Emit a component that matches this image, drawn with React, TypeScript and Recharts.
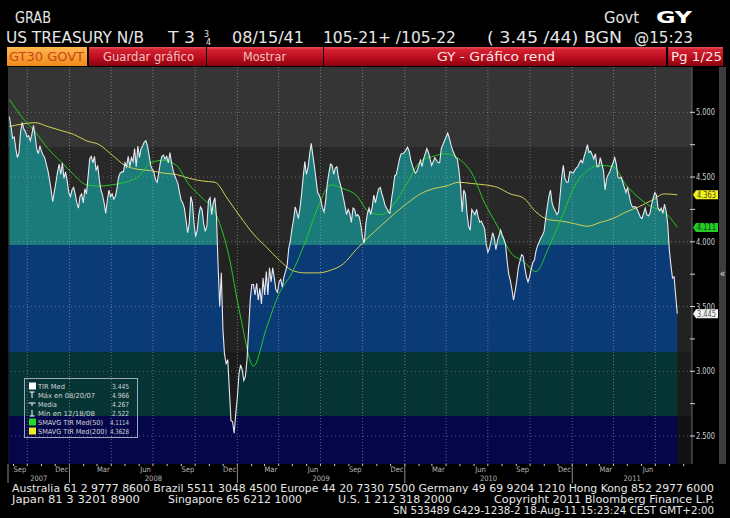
import React from "react";
import { ComposedChart, Area, Line, XAxis, YAxis, ReferenceLine, ReferenceDot } from "recharts";

const DAY = 86400000;
const d = (y: number, m: number, day: number) => Date.UTC(y, m - 1, day) / DAY;

// ---- axis ranges ----
const X_START = d(2007, 8, 20);
const X_END = d(2011, 9, 19);
const FIRST_SAMPLE = d(2007, 8, 23);
const SAMPLE_STEP_DAYS = 3.5;
const Y_MIN = 2.284;
const Y_MAX = 5.35;

// ---- TIR Med: half-weekly samples from 23-Aug-2007 to 18-Aug-2011 ----
const tir = [
  4.966, 4.89, 4.80, 4.81, 4.72, 4.65, 4.69, 4.85, 4.92, 4.87,
  4.85, 4.81, 4.82, 4.78, 4.83, 4.90, 4.82, 4.72, 4.68, 4.74,
  4.70, 4.67, 4.65, 4.60, 4.55, 4.48, 4.40, 4.31, 4.39, 4.46,
  4.54, 4.60, 4.52, 4.61, 4.49, 4.54, 4.47, 4.38, 4.35, 4.40,
  4.42, 4.37, 4.30, 4.26, 4.35, 4.37, 4.30, 4.41, 4.37, 4.50,
  4.64, 4.66, 4.61, 4.66, 4.55, 4.59, 4.48, 4.40, 4.36, 4.30,
  4.22, 4.32, 4.40, 4.35, 4.37, 4.33, 4.35, 4.41, 4.50, 4.53,
  4.54, 4.54, 4.61, 4.58, 4.66, 4.58, 4.65, 4.62, 4.72, 4.58,
  4.74, 4.65, 4.72, 4.74, 4.77, 4.78, 4.74, 4.67, 4.59, 4.56,
  4.54, 4.48, 4.46, 4.53, 4.61, 4.66, 4.67, 4.64, 4.66, 4.61,
  4.69, 4.61, 4.55, 4.51, 4.48, 4.45, 4.38, 4.32, 4.30, 4.26,
  4.17, 4.07, 4.14, 4.35, 4.30, 4.14, 4.04, 4.09, 4.21, 4.27,
  4.25, 4.14, 4.08, 4.12, 4.32, 4.34, 4.21, 4.30, 4.34, 4.19,
  3.81, 3.50, 3.76, 3.32, 3.13, 3.06, 3.09, 2.86, 2.62, 2.61,
  2.522, 2.675, 2.80, 2.98, 3.05, 3.01, 2.93, 2.96, 3.09, 3.32,
  3.55, 3.67, 3.67, 3.59, 3.68, 3.55, 3.64, 3.52, 3.72, 3.59,
  3.77, 3.59, 3.80, 3.69, 3.80, 3.72, 3.63, 3.61, 3.69, 3.71,
  3.65, 3.73, 3.77, 3.82, 3.95, 4.01, 4.10, 4.17, 4.27, 4.23,
  4.18, 4.26, 4.37, 4.50, 4.62, 4.52, 4.57, 4.68, 4.76, 4.67,
  4.58, 4.48, 4.38, 4.36, 4.32, 4.26, 4.23, 4.32, 4.45, 4.53,
  4.60, 4.59, 4.52, 4.57, 4.58, 4.49, 4.45, 4.40, 4.34, 4.28,
  4.21, 4.25, 4.22, 4.15, 4.26, 4.25, 4.20, 4.21, 4.19, 4.12,
  4.03, 3.99, 4.14, 4.22, 4.26, 4.21, 4.27, 4.36, 4.30, 4.36,
  4.41, 4.42, 4.37, 4.33, 4.28, 4.26, 4.23, 4.22, 4.33, 4.41,
  4.51, 4.52, 4.58, 4.64, 4.68, 4.68, 4.69, 4.71, 4.73, 4.70,
  4.63, 4.59, 4.55, 4.53, 4.55, 4.59, 4.63, 4.58, 4.64, 4.68,
  4.72, 4.69, 4.64, 4.59, 4.62, 4.65, 4.63, 4.61, 4.61, 4.72,
  4.75, 4.78, 4.81, 4.84, 4.80, 4.75, 4.71, 4.68, 4.65, 4.64,
  4.55, 4.43, 4.23, 4.40, 4.37, 4.22, 4.12, 4.09, 4.25, 4.23,
  4.21, 4.25, 4.19, 4.15, 4.16, 4.13, 4.10, 3.98, 3.92, 3.95,
  4.01, 4.07, 4.03, 3.94, 4.01, 4.05, 4.09, 4.05, 4.02, 3.98,
  3.85, 3.75, 3.70, 3.63, 3.55, 3.62, 3.70, 3.80, 3.85, 3.90,
  3.89, 3.80, 3.73, 3.69, 3.73, 3.79, 3.84, 3.86, 3.93, 3.97,
  4.00, 4.03, 4.05, 4.08, 4.18, 4.27, 4.35, 4.40, 4.30, 4.26,
  4.24, 4.21, 4.23, 4.36, 4.50, 4.59, 4.49, 4.46, 4.46, 4.54,
  4.54, 4.53, 4.55, 4.57, 4.58, 4.61, 4.63, 4.61, 4.66, 4.70,
  4.75, 4.69, 4.70, 4.67, 4.64, 4.68, 4.58, 4.58, 4.65, 4.60,
  4.55, 4.40, 4.49, 4.52, 4.54, 4.58, 4.61, 4.65, 4.60, 4.50,
  4.49, 4.50, 4.46, 4.42, 4.38, 4.42, 4.36, 4.30, 4.27, 4.27,
  4.27, 4.25, 4.22, 4.19, 4.18, 4.22, 4.26, 4.21, 4.20, 4.22,
  4.29, 4.34, 4.38, 4.36, 4.26, 4.24, 4.26, 4.22, 4.29, 4.24,
  4.14, 3.94, 3.82, 3.72, 3.73, 3.58, 3.445,
];

// ---- moving averages, one value every 4 weeks from 23-Aug-2007 ----
const MA_STEP_DAYS = 28;
const sma50 = [
  5.10, 4.96, 4.85, 4.72, 4.62, 4.52, 4.44, 4.43, 4.44, 4.46,
  4.50, 4.61, 4.63, 4.59, 4.44, 4.34, 4.23, 3.93, 3.42, 3.04,
  3.33, 3.60, 3.76, 3.99, 4.26, 4.44, 4.41, 4.36, 4.23, 4.21,
  4.30, 4.46, 4.62, 4.66, 4.68, 4.64, 4.53, 4.30, 4.12, 3.92,
  3.85, 3.77, 3.96, 4.19, 4.43, 4.55, 4.59, 4.58, 4.44, 4.34,
  4.27, 4.23, 4.1114,
];
const sma200 = [
  4.89, 4.91, 4.92, 4.89, 4.86, 4.83, 4.78, 4.75, 4.67, 4.59,
  4.56, 4.55, 4.53, 4.52, 4.49, 4.47, 4.46, 4.33, 4.19, 4.06,
  3.96, 3.86, 3.78, 3.76, 3.76, 3.78, 3.83, 3.94, 4.04, 4.13,
  4.22, 4.30, 4.37, 4.41, 4.43, 4.46, 4.45, 4.44, 4.42, 4.37,
  4.34, 4.23, 4.17, 4.16, 4.14, 4.12, 4.15, 4.18, 4.23, 4.27,
  4.32, 4.37, 4.3628,
];

// ---- value bands ----
const BAND_LIMITS = [4.732, 3.975, 3.151, 2.655];
const FILL_COLORS = ["#1b7a7a", "#1b7a7a", "#0a3b76", "#063434", "#05054a"];
const BG_COLORS = ["#353535", "#282828", "#222222", "#1b1b1b", "#121212"];

const Y_TICKS = [2.5, 2.75, 3.0, 3.25, 3.5, 3.75, 4.0, 4.25, 4.5, 4.75, 5.0];
const Y_GRID = [2.5, 3.0, 3.5, 4.0, 4.5, 5.0];

const MONTHS = ["Jan", "Feb", "Mar", "Apr", "May", "Jun", "Jul", "Aug", "Sep", "Oct", "Nov", "Dec"];
const LABEL_MONTHS = [2, 5, 8, 11];
const YEARS = [2007, 2008, 2009, 2010, 2011];

const tags = [
  { value: 4.363, label: "4.363", fill: "#f2f21e", text: "#4a4a10" },
  { value: 4.111, label: "4.111", fill: "#26cc26", text: "#0c3a0c" },
  { value: 3.445, label: "3.445", fill: "#f2f2f2", text: "#555555" },
];

const legendRows = [
  { icon: "sq", color: "#ffffff", label: "TIR Med", lw: 27, value: "3.445", vw: 17 },
  { icon: "max", color: "#ffffff", label: "Máx en 08/20/07", lw: 57, value: "4.966", vw: 17 },
  { icon: "mean", color: "#ffffff", label: "Media", lw: 19, value: "4.267", vw: 17 },
  { icon: "min", color: "#ffffff", label: "Mín en 12/18/08", lw: 57, value: "2.522", vw: 17 },
  { icon: "sq", color: "#22dd22", label: "SMAVG TIR Med(50)", lw: 65, value: "4.1114", vw: 19 },
  { icon: "sq", color: "#eeee22", label: "SMAVG TIR Med(200)", lw: 69, value: "4.3628", vw: 19 },
];

const FONT = "'DejaVu Sans Condensed','Liberation Sans Narrow','DejaVu Sans',sans-serif";

// ---- derived tables ----
function buildRows() {
  const map = new Map<number, any>();
  const get = (t: number) => {
    if (!map.has(t)) map.set(t, { t, bg: Y_MAX });
    return map.get(t);
  };
  get(X_START);
  get(X_END);
  tir.forEach((v, k) => (get(FIRST_SAMPLE + SAMPLE_STEP_DAYS * k).tir = v));
  sma50.forEach((v, j) => (get(FIRST_SAMPLE + MA_STEP_DAYS * j).s50 = v));
  sma200.forEach((v, j) => (get(FIRST_SAMPLE + MA_STEP_DAYS * j).s200 = v));
  return [...map.values()].sort((a, b) => a.t - b.t);
}

const LAST_SAMPLE = FIRST_SAMPLE + SAMPLE_STEP_DAYS * (tir.length - 1);

function monthStarts() {
  const out: number[] = [];
  for (let y = 2007; y <= 2011; y++)
    for (let m = 0; m < 12; m++) {
      const s = Date.UTC(y, m, 1) / DAY;
      if (s > X_START && s < X_END) out.push(s);
    }
  return out;
}

function monthLabelTicks() {
  const out: number[] = [];
  for (let y = 2007; y <= 2011; y++)
    for (const m of LABEL_MONTHS) {
      const mid = Date.UTC(y, m, 15) / DAY;
      if (mid >= X_START && mid <= LAST_SAMPLE) out.push(mid);
    }
  return out.sort((a, b) => a - b);
}

function quarterStarts() {
  return monthStarts().filter((s) => new Date(s * DAY).getUTCMonth() % 3 === 0);
}

const YEAR_SEPS = YEARS.map((y) => Date.UTC(y, 0, 1) / DAY).filter((s) => s > X_START);
const YEAR_MIDS = YEARS.map((y) => {
  const a = Math.max(X_START, Date.UTC(y, 0, 1) / DAY);
  const b = Math.min(X_END, Date.UTC(y + 1, 0, 1) / DAY);
  return (a + b) / 2;
});

function bandStops(top: number, bottom: number, colors: string[], id: string) {
  const off = (v: number) => Math.min(1, Math.max(0, (top - v) / (top - bottom)));
  const stops: any[] = [];
  colors.forEach((c, k) => {
    const a = k === 0 ? 0 : off(BAND_LIMITS[k - 1]);
    const b = k === colors.length - 1 ? 1 : off(BAND_LIMITS[k]);
    stops.push(<stop key={id + k + "a"} offset={a} stopColor={c} />);
    stops.push(<stop key={id + k + "b"} offset={b} stopColor={c} />);
  });
  return stops;
}

const MonthTick = (props: any) => {
  const { x, y, payload } = props;
  const dt = new Date(Math.floor(payload.value) * DAY);
  return (
    <text x={x} y={y + 8} textAnchor="middle" fontSize={7.5} fill="#b8b8b8" fontFamily={FONT}>
      {MONTHS[dt.getUTCMonth()]}
    </text>
  );
};

const YearTick = (props: any) => {
  const { x, y, payload } = props;
  const k = YEAR_MIDS.indexOf(payload.value);
  return (
    <text x={x} y={y + 7} textAnchor="middle" fontSize={7.5} fill="#b8b8b8" fontFamily={FONT}>
      {k >= 0 ? YEARS[k] : ""}
    </text>
  );
};

const YTick = (props: any) => {
  const { x, y, payload } = props;
  const v = payload.value;
  const major = Math.abs(v * 2 - Math.round(v * 2)) < 1e-6;
  return (
    <g>
      <path d={`M${x - 2},${y}L${x + 3},${y}`} stroke="#d0d0d0" strokeWidth={1} />
      {major && (
        <text x={x + 4} y={y + 3} fontSize={9} fill="#cfcfcf" fontFamily={FONT} textLength={19} lengthAdjust="spacingAndGlyphs">
          {v.toFixed(3)}
        </text>
      )}
    </g>
  );
};

// marks hanging below the plot: month tick marks and year separators
const belowMark = (len: number, color: string) => (p: any) => {
  const bottom = Math.max(p.y1, p.y2);
  return <path d={`M${p.x1},${bottom}L${p.x1},${bottom + len}`} stroke={color} strokeWidth={1} fill="none" />;
};

const makeTag = (tag: any) => (props: any) => {
  const { cx, cy } = props;
  const x0 = cx + 1;
  return (
    <g>
      <polygon
        points={`${x0},${cy} ${x0 + 3},${cy - 4.5} ${x0 + 25},${cy - 4.5} ${x0 + 25},${cy + 4.5} ${x0 + 3},${cy + 4.5}`}
        fill={tag.fill}
      />
      <text x={x0 + 4} y={cy + 3} fontSize={8} fill={tag.text} fontFamily={FONT} textLength={19} lengthAdjust="spacingAndGlyphs">
        {tag.label}
      </text>
    </g>
  );
};

const T = (p: any) => (
  <text
    x={p.x}
    y={p.y}
    fontSize={p.size}
    fill={p.fill || "#e6e6e6"}
    fontWeight={p.bold ? "bold" : "normal"}
    fontFamily={FONT}
    textLength={p.w}
    lengthAdjust="spacingAndGlyphs"
  >
    {p.children}
  </text>
);

const TAB_TOP = 47;
const TAB_H = 19;

export default function App() {
  const rows = buildRows();
  const tirMax = Math.max(...tir);
  const ms = monthStarts();
  const qs = quarterStarts();

  return (
    <div style={{ position: "absolute", left: 0, top: 0, width: 730, height: 518, background: "#000", overflow: "hidden" }}>
      <div style={{ position: "absolute", left: 0, top: 0 }}>
        <ComposedChart width={730} height={518} data={rows} margin={{ top: 67, right: 8, bottom: 34, left: 8 }}>
          <defs>
            <linearGradient id="bgFill" x1="0" y1="0" x2="0" y2="1">
              {bandStops(Y_MAX, Y_MIN, BG_COLORS, "bg")}
            </linearGradient>
            <linearGradient id="tirFill" x1="0" y1="0" x2="0" y2="1">
              {bandStops(tirMax, Y_MIN, FILL_COLORS, "tf")}
            </linearGradient>
          </defs>
          <XAxis
            dataKey="t"
            type="number"
            domain={[X_START, X_END]}
            allowDataOverflow
            ticks={monthLabelTicks()}
            interval={0}
            tick={MonthTick}
            tickSize={0}
            tickMargin={0}
            tickLine={false}
            axisLine={false}
            height={10}
          />
          <XAxis
            xAxisId="yr"
            dataKey="t"
            type="number"
            domain={[X_START, X_END]}
            allowDataOverflow
            ticks={[...YEAR_MIDS]}
            interval={0}
            tick={YearTick}
            tickSize={0}
            tickMargin={0}
            tickLine={false}
            axisLine={false}
            height={10}
          />
          <YAxis
            orientation="right"
            type="number"
            domain={[Y_MIN, Y_MAX]}
            allowDataOverflow
            ticks={Y_TICKS}
            interval={0}
            tick={YTick}
            tickSize={0}
            tickMargin={0}
            tickLine={false}
            axisLine={{ stroke: "#6a6a6a" }}
            width={30}
          />
          <Area dataKey="bg" type="linear" stroke="none" fill="url(#bgFill)" fillOpacity={1} isAnimationActive={false} />
          <Area dataKey="tir" type="linear" connectNulls stroke="none" fill="url(#tirFill)" fillOpacity={1} isAnimationActive={false} />
          {qs.map((q) => (
            <ReferenceLine key={"q" + q} x={q} stroke="#c0c0c0" strokeOpacity={0.5} strokeDasharray="1 2" />
          ))}
          {Y_GRID.map((g) => (
            <ReferenceLine key={"g" + g} y={g} stroke="#c0c0c0" strokeOpacity={0.4} strokeDasharray="1 3" />
          ))}
          {ms.map((m) => (
            <ReferenceLine key={"m" + m} x={m} stroke="none" shape={belowMark(2, "#cfcfcf")} />
          ))}
          {YEAR_SEPS.map((s) => (
            <ReferenceLine key={"y" + s} x={s} stroke="none" shape={belowMark(19, "#8c8c8c")} />
          ))}
          <Line dataKey="s200" type="monotone" connectNulls stroke="#d2d256" strokeWidth={1} dot={false} isAnimationActive={false} />
          <Line dataKey="s50" type="monotone" connectNulls stroke="#28c828" strokeWidth={1} dot={false} isAnimationActive={false} />
          <Line dataKey="tir" type="linear" connectNulls stroke="#e8e8f0" strokeWidth={1.1} dot={false} isAnimationActive={false} />
          {tags.map((tg) => (
            <ReferenceDot key={tg.label} x={X_END} y={tg.value} r={0} ifOverflow="visible" shape={makeTag(tg)} />
          ))}
        </ComposedChart>
      </div>

      <svg width={730} height={518} style={{ position: "absolute", left: 0, top: 0, pointerEvents: "none" }}>
        <defs>
          <linearGradient id="redTab" x1="0" y1="0" x2="0" y2="1">
            <stop offset="0" stopColor="#e8505a" />
            <stop offset="0.15" stopColor="#d42030" />
            <stop offset="0.6" stopColor="#b80c1c" />
            <stop offset="1" stopColor="#8a0410" />
          </linearGradient>
          <linearGradient id="orangeTab" x1="0" y1="0" x2="0" y2="1">
            <stop offset="0" stopColor="#ffb850" />
            <stop offset="1" stopColor="#f08a1a" />
          </linearGradient>
        </defs>

        {/* header */}
        <T x={15} y={23} size={15} w={36}>GRAB</T>
        <T x={604} y={23} size={15} w={35}>Govt</T>
        <T x={656} y={23} size={16} w={36} bold fill="#ffffff">GY</T>
        <T x={6} y={43} size={15} w={138}>US TREASURY N/B</T>
        <T x={168} y={43} size={15} w={27}>T 3</T>
        <T x={204} y={37} size={8} w={5}>3</T>
        <T x={206} y={45} size={8} w={5}>4</T>
        <T x={232} y={43} size={15} w={72}>08/15/41</T>
        <T x={323} y={43} size={15} w={133}>105-21+ /105-22</T>
        <T x={487} y={43} size={15} w={135}>( 3.45 /44) BGN</T>
        <T x={634} y={43} size={15} w={59}>@15:23</T>

        {/* tab bar */}
        <rect x={7} y={TAB_TOP} width={80} height={TAB_H} fill="url(#orangeTab)" />
        <rect x={89} y={TAB_TOP} width={117} height={TAB_H} fill="url(#redTab)" />
        <rect x={207} y={TAB_TOP} width={116} height={TAB_H} fill="url(#redTab)" />
        <rect x={324} y={TAB_TOP} width={342} height={TAB_H} fill="url(#redTab)" />
        <rect x={668} y={TAB_TOP} width={55} height={TAB_H} fill="url(#redTab)" />
        <T x={9} y={61} size={13} w={75} fill="#c8461a">GT30 GOVT</T>
        <T x={103} y={61} size={13} w={91} fill="#f2c2c2">Guardar gráfico</T>
        <T x={243} y={61} size={13} w={43} fill="#f2c2c2">Mostrar</T>
        <T x={437} y={61} size={13} w={118} fill="#fbe6e6">GY - Gráfico rend</T>
        <T x={671} y={61} size={13} w={51} fill="#fbe6e6">Pg 1/25</T>

        {/* right side strip */}
        <rect x={719} y={67} width={7} height={397} fill="#3c3c3c" />
        <text x={722.5} y={277} fontSize={10} fill="#e0e0e0" textAnchor="middle" fontFamily={FONT}>«</text>

        {/* axis frame */}
        <line x1={8} x2={8} y1={464} y2={483} stroke="#8a8a8a" />

        {/* legend */}
        <rect x={24.5} y={378.5} width={113} height={59} fill="none" stroke="#9ea8bc" strokeWidth={1} />
        {legendRows.map((r, k) => {
          const cy = 386 + k * 9;
          let icon: any = null;
          if (r.icon === "sq") icon = <rect x={29} y={cy - 3.5} width={7} height={7} fill={r.color} />;
          else if (r.icon === "max")
            icon = (
              <g stroke="#ffffff" strokeWidth={1}>
                <line x1={29.5} x2={34.5} y1={cy - 3} y2={cy - 3} />
                <line x1={32} x2={32} y1={cy - 3} y2={cy + 3} />
              </g>
            );
          else if (r.icon === "mean")
            icon = (
              <g stroke="#ffffff" strokeWidth={1}>
                <line x1={28.5} x2={35.5} y1={cy - 1} y2={cy - 1} />
                <line x1={32} x2={32} y1={cy - 1} y2={cy + 2} />
              </g>
            );
          else
            icon = (
              <g stroke="#ffffff" strokeWidth={1}>
                <line x1={29.5} x2={34.5} y1={cy + 3} y2={cy + 3} />
                <line x1={32} x2={32} y1={cy - 3} y2={cy + 3} />
              </g>
            );
          return (
            <g key={r.label}>
              {icon}
              <text x={38} y={cy + 3} fontSize={7} fill="#d4d4d4" fontFamily={FONT} textLength={r.lw} lengthAdjust="spacingAndGlyphs">{r.label}</text>
              <text x={129 - r.vw} y={cy + 3} fontSize={7} fill="#d4d4d4" fontFamily={FONT} textLength={r.vw} lengthAdjust="spacingAndGlyphs">{r.value}</text>
            </g>
          );
        })}

        {/* footer */}
        <T x={12} y={492} size={10.5} w={702}>Australia 61 2 9777 8600 Brazil 5511 3048 4500 Europe 44 20 7330 7500 Germany 49 69 9204 1210 Hong Kong 852 2977 6000</T>
        <T x={12} y={503} size={10.5} w={128}>Japan 81 3 3201 8900</T>
        <T x={168} y={503} size={10.5} w={134}>Singapore 65 6212 1000</T>
        <T x={338} y={503} size={10.5} w={114}>U.S. 1 212 318 2000</T>
        <T x={494} y={503} size={10.5} w={220}>Copyright 2011 Bloomberg Finance L.P.</T>
        <T x={393} y={514} size={10.5} w={321}>SN 533489 G429-1238-2 18-Aug-11 15:23:24 CEST GMT+2:00</T>
      </svg>
    </div>
  );
}
